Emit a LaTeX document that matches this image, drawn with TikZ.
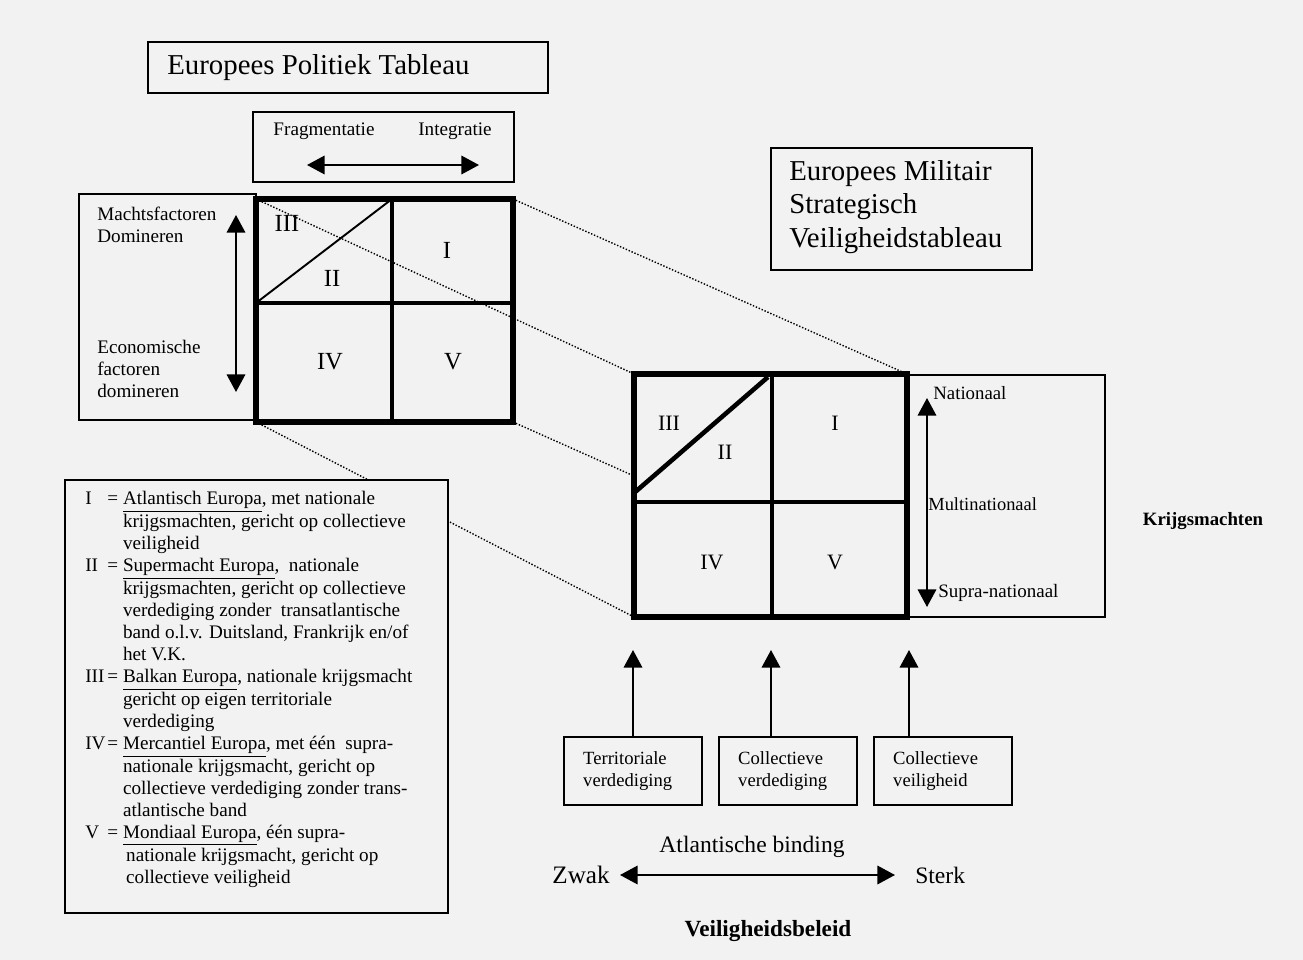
\documentclass[tikz,border=0pt]{standalone}
\usepackage{fontspec}
\setmainfont{Liberation Serif}
\usetikzlibrary{arrows.meta}
\definecolor{paper}{gray}{0.95}
\newcommand{\nr}[1]{\makebox[12.5pt][l]{#1}=\hspace{2.8pt}}
\tikzset{
    txt/.style={inner sep=0pt},
    boxline/.style={line width=1.1pt},
    fatline/.style={line width=3.6pt},
    midline/.style={line width=2.6pt},
    projline/.style={densely dotted, line width=0.8pt},
    uparrow/.style={line width=1.1pt, -{Triangle[length=10pt,width=10.5pt]}},
    twoarrow/.style={line width=1.1pt, {Triangle[length=10pt,width=10.5pt]}-{Triangle[length=10pt,width=10.5pt]}},
    titletext/.style={txt, align=left, font=\fontsize{16.4}{19}\selectfont},
    axistext/.style={txt, align=left, font=\fontsize{10.9}{12.5}\selectfont},
    bigtext/.style={txt, font=\fontsize{13.4}{15}\selectfont},
    bignr/.style={txt, font=\fontsize{14}{16}\selectfont},
    smallnr/.style={txt, font=\fontsize{12.5}{14}\selectfont},
    sourcebox/.style={draw, line width=1.1pt, minimum width=78.2pt, minimum height=38.6pt,
        text width=56.7pt, inner xsep=10.75pt, align=left, font=\fontsize{10.6}{13}\selectfont},
}
\begin{document}
\begin{tikzpicture}[x=0.02cm, y=-0.02cm]
    \fill[paper] (0,0) rectangle (1303,960);
    \useasboundingbox (0,0) rectangle (1303,960);

    \coordinate (p1tl) at (256,199);
    \coordinate (p1tr) at (513,199);
    \coordinate (p1bl) at (256,422);
    \coordinate (p1br) at (513,422);
    \coordinate (p2tl) at (634,374);
    \coordinate (p2tr) at (907,374);
    \coordinate (p2bl) at (634,617);
    \coordinate (p2ml) at (634,476);

    \draw[projline] (p1tl) -- (p2tl);
    \draw[projline] (p1tr) -- (p2tr);
    \draw[projline] (p1bl) -- (p2bl);
    \draw[projline] (p1br) -- (p2ml);

    \draw[boxline] (148,42) rectangle (548,93);
    \node[titletext, anchor=west] (polTitle) at (167,68) {Europees Politiek Tableau};

    \draw[boxline] (253,112) rectangle (514,182);
    \node[axistext] (frag) at (324,131) {Fragmentatie};
    \node[axistext] (integ) at (455,131) {Integratie};
    \coordinate (fragL) at (307,165);
    \coordinate (fragR) at (479,165);
    \draw[twoarrow] (fragL) -- (fragR);

    \draw[boxline] (79,194) rectangle (256,420);
    \node[axistext, anchor=west] (macht) at (97,225) {Machtsfactoren\\Domineren};
    \node[axistext, anchor=west] (econ) at (97,369) {Economische\\factoren\\domineren};
    \coordinate (domT) at (236,215);
    \coordinate (domB) at (236,392);
    \draw[twoarrow] (domB) -- (domT);

    \draw[fatline] (p1tl) rectangle (p1br);
    \draw[midline] (392,199) -- (392,422);
    \draw[midline] (256,303) -- (513,303);
    \draw[boxline] (256,303) -- (392,199);
    \node[bignr] (polIII) at (287,223) {III};
    \node[bignr] (polII) at (332,278) {II};
    \node[bignr] (polI) at (447,250) {I};
    \node[bignr] (polIV) at (330,362) {IV};
    \node[bignr] (polV) at (453,362) {V};

    \draw[boxline, fill=paper] (65,480) rectangle (448,913);
    \node[txt, anchor=north west, font=\fontsize{10.9}{12.5}\selectfont] (legend) at (85,489) {%
        \begin{tabular}{@{}l@{}l@{}}
            \nr{I} & \underline{Atlantisch Europa}, met nationale\\
                   & krijgsmachten, gericht op collectieve\\
                   & veiligheid\\
            \nr{II} & \underline{Supermacht Europa}, \ nationale\\
                    & krijgsmachten, gericht op collectieve\\
                    & verdediging zonder \ transatlantische\\
                    & band o.l.v. Duitsland, Frankrijk en/of\\
                    & het V.K.\\
            \nr{III} & \underline{Balkan Europa}, nationale krijgsmacht\\
                     & gericht op eigen territoriale\\
                     & verdediging\\
            \nr{IV} & \underline{Mercantiel Europa}, met één \ supra-\\
                    & nationale krijgsmacht, gericht op\\
                    & collectieve verdediging zonder trans-\\
                    & atlantische band\\
            \nr{V} & \underline{Mondiaal Europa}, één supra-\\
                   & \,nationale krijgsmacht, gericht op\\
                   & \,collectieve veiligheid
        \end{tabular}};

    \draw[boxline] (771,148) rectangle (1032,270);
    \node[titletext, anchor=west] (milTitle) at (789,207) {Europees Militair\\Strategisch\\Veiligheidstableau};

    \draw[boxline] (907,375) rectangle (1105,617);
    \draw[fatline] (p2tl) rectangle (907,617);
    \draw[midline] (772,374) -- (772,617);
    \draw[midline] (634,502) -- (907,502);
    \draw[midline] (634,493) -- (768,377);
    \node[smallnr] (milIII) at (669,423) {III};
    \node[smallnr] (milII) at (725,452) {II};
    \node[smallnr] (milI) at (835,423) {I};
    \node[smallnr] (milIV) at (712,562) {IV};
    \node[smallnr] (milV) at (835,562) {V};

    \coordinate (natT) at (927,398);
    \coordinate (natB) at (927,607);
    \draw[twoarrow] (natB) -- (natT);
    \node[axistext, anchor=west, font=\fontsize{10.7}{12.5}\selectfont] (nat) at (933,393) {Nationaal};
    \node[axistext, anchor=west, font=\fontsize{10.5}{12.5}\selectfont] (multi) at (928,504) {Multinationaal};
    \node[axistext, anchor=west, font=\fontsize{10.8}{12.5}\selectfont] (supra) at (938,593) {Supra-nationaal};
    \node[txt, font=\fontsize{10.7}{12.5}\selectfont\bfseries] (krijg) at (1203,521) {Krijgsmachten};

    \node[sourcebox] (terr) at (633,771) {Territoriale\\verdediging};
    \node[sourcebox] (colVerd) at (788,771) {Collectieve\\verdediging};
    \node[sourcebox] (colVeil) at (943,771) {Collectieve\\veiligheid};
    \coordinate (tipA) at (633,650);
    \coordinate (tipB) at (771,650);
    \coordinate (tipC) at (909,650);
    \draw[uparrow] (terr.north -| tipA) -- (tipA);
    \draw[uparrow] (colVerd.north -| tipB) -- (tipB);
    \draw[uparrow] (colVeil.north -| tipC) -- (tipC);

    \node[bigtext] (atl) at (752,847) {Atlantische binding};
    \node[bigtext, anchor=east, font=\fontsize{14.3}{16}\selectfont] (zwak) at (610,875) {Zwak};
    \node[bigtext, anchor=west] (sterk) at (915,875) {Sterk};
    \coordinate (atlL) at (620,875);
    \coordinate (atlR) at (895,875);
    \draw[twoarrow] (atlL) -- (atlR);
    \node[txt, font=\fontsize{13.2}{15}\selectfont\bfseries] (beleid) at (768,931) {Veiligheidsbeleid};
\end{tikzpicture}
\end{document}
